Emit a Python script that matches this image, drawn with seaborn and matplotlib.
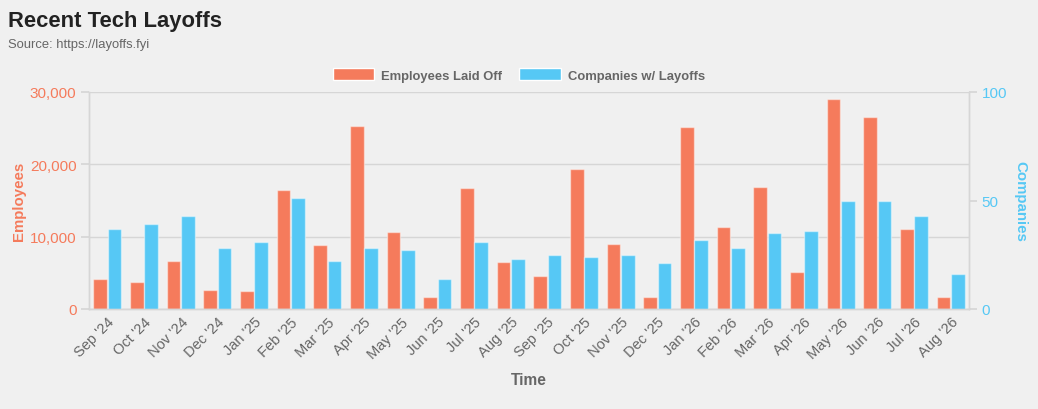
import pandas as pd
import matplotlib
matplotlib.use('Agg')
import matplotlib.pyplot as plt
import seaborn as sns
from matplotlib.ticker import FuncFormatter, FixedLocator

# data
months = ["Sep '24", "Oct '24", "Nov '24", "Dec '24", "Jan '25", "Feb '25", "Mar '25", "Apr '25",
          "May '25", "Jun '25", "Jul '25", "Aug '25", "Sep '25", "Oct '25", "Nov '25", "Dec '25",
          "Jan '26", "Feb '26", "Mar '26", "Apr '26", "May '26", "Jun '26", "Jul '26", "Aug '26"]
employees = [4100, 3800, 6700, 2600, 2500, 16500, 8900, 25300, 10600, 1600, 16700, 6500,
             4500, 19300, 9000, 1600, 25200, 11300, 16800, 5100, 29100, 26600, 11000, 1700]
companies = [37, 39, 43, 28, 31, 51, 22, 28, 27, 14, 31, 23,
             25, 24, 25, 21, 32, 28, 35, 36, 50, 50, 43, 16]

series = ['Employees Laid Off', 'Companies w/ Layoffs']
orange = '#f57b5c'
blue = '#56c8f5'
bg = '#f0f0f0'

df = pd.DataFrame({
    'Month': months * 2,
    'Series': [series[0]] * len(months) + [series[1]] * len(months),
    'Value': employees + companies,
})

sns.set_theme(style='white')
plt.rcParams['font.family'] = ['Liberation Sans', 'DejaVu Sans']

fig = plt.figure(figsize=(10.38, 4.10), dpi=100, facecolor=bg)
ax = fig.add_axes([89 / 1038, 100 / 410, 880 / 1038, 217 / 410])
ax.set_facecolor(bg)
ax2 = ax.twinx()

# one series per axis, dodged against the full hue order so they sit side by side
pal = {series[0]: orange, series[1]: blue}
for a, name in ((ax, series[0]), (ax2, series[1])):
    sns.barplot(data=df[df['Series'] == name], x='Month', y='Value', hue='Series',
                hue_order=series, palette=pal, order=months, dodge=True, saturation=1,
                width=0.78, gap=0.06, edgecolor=(1, 1, 1, 0.45), linewidth=1,
                ax=a, legend=False)

ax.set_xlim(-0.5, len(months) - 0.5)
ax.set_ylim(0, 30000)
ax2.set_ylim(0, 100)
ax.yaxis.set_major_locator(FixedLocator([0, 10000, 20000, 30000]))
ax.yaxis.set_major_formatter(FuncFormatter(lambda v, p: f'{int(v):,}'))
ax2.yaxis.set_major_locator(FixedLocator([0, 50, 100]))

grid_c = '#d6d6d6'
ax.grid(axis='y', color=grid_c, linewidth=1)
ax.set_axisbelow(True)
for a in (ax, ax2):
    a.spines['top'].set_visible(False)
    for s in ['left', 'right', 'bottom']:
        a.spines[s].set_color(grid_c)
        a.spines[s].set_linewidth(1)

ax.tick_params(axis='y', length=6, color=grid_c, labelcolor=orange, labelsize=11, pad=3)
ax2.tick_params(axis='y', length=6, color=grid_c, labelcolor=blue, labelsize=11, pad=3)
ax.tick_params(axis='x', length=0, labelcolor='#666666', labelsize=10.5, pad=4)
plt.setp(ax.get_xticklabels(), rotation=45, ha='right', rotation_mode='anchor')

ax.set_xlabel('Time', fontsize=11.2, fontweight='bold', color='#666666', labelpad=8)
ax.set_ylabel('Employees', fontsize=10.8, fontweight='bold', color=orange, labelpad=3)
ax2.set_ylabel('Companies', fontsize=10.8, fontweight='bold', color=blue, rotation=270, labelpad=15)

fig.text(8 / 1038, 1 - 11 / 410, 'Recent Tech Layoffs', fontsize=15.8, fontweight='bold',
         color='#222222', va='top', ha='left')
fig.text(8 / 1038, 1 - 39 / 410, 'Source: https://layoffs.fyi', fontsize=9.4,
         color='#666666', va='top', ha='left')

handles = [plt.Rectangle((0, 0), 1, 1, facecolor=orange), plt.Rectangle((0, 0), 1, 1, facecolor=blue)]
leg = fig.legend(handles, series, loc='center', bbox_to_anchor=(519 / 1038, 1 - 76 / 410),
                 ncol=2, frameon=False, handlelength=3.2, handleheight=1.0,
                 handletextpad=0.55, columnspacing=1.3,
                 prop={'weight': 'bold', 'size': 9.35})
for t in leg.get_texts():
    t.set_color('#666666')

fig.savefig('out.png', dpi=100, facecolor=bg)
